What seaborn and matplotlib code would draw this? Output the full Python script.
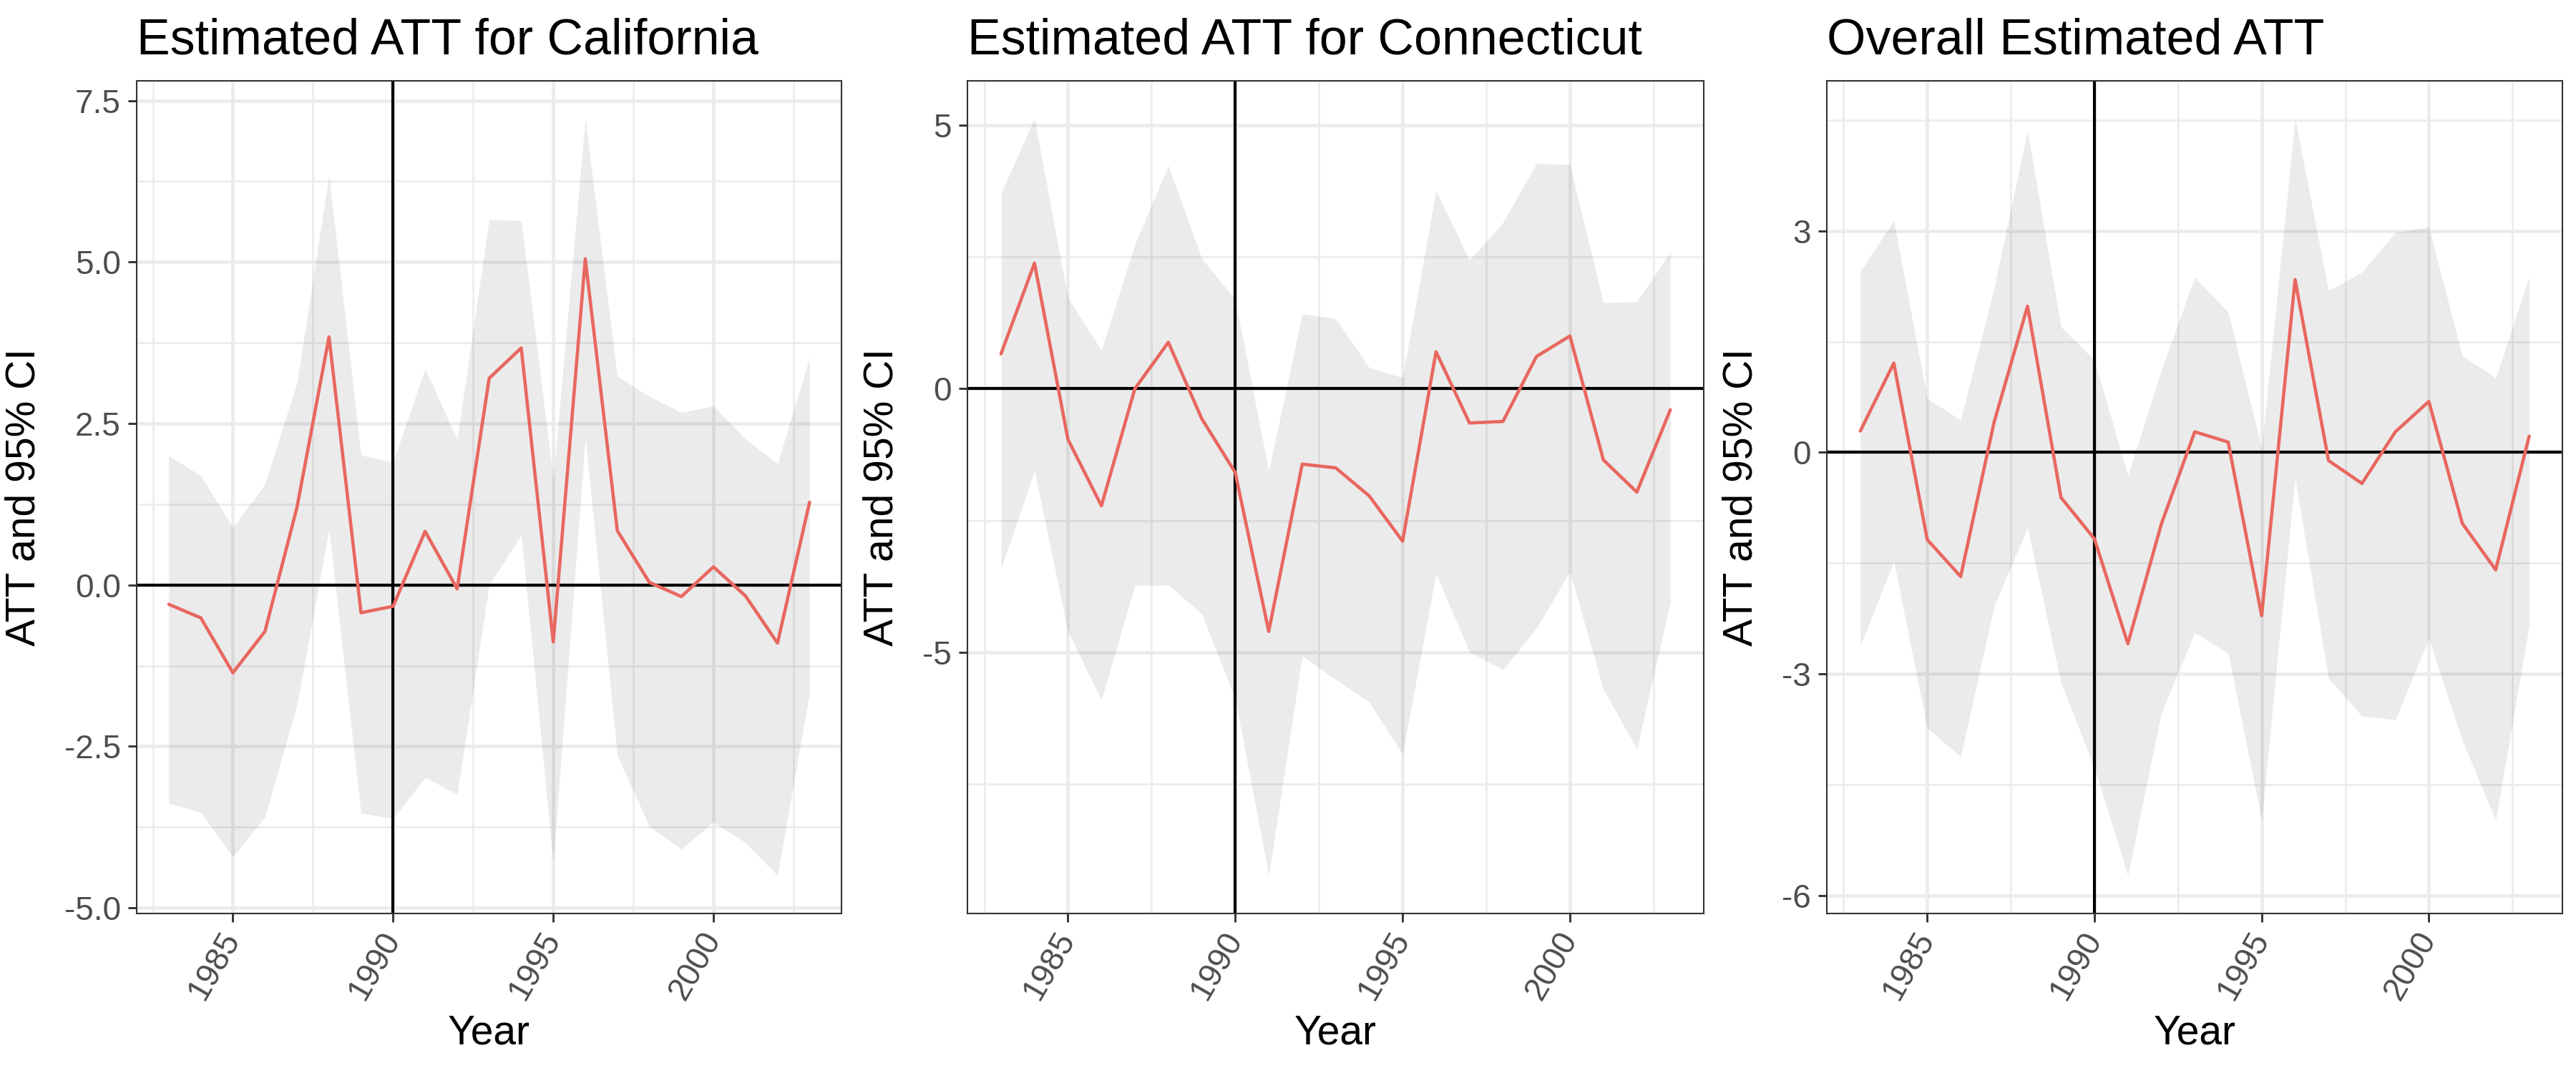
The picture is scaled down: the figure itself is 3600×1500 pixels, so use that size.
import numpy as np
import pandas as pd
import matplotlib
matplotlib.use('Agg')
import matplotlib.pyplot as plt
import seaborn as sns

# Event-time ATT estimates with 95% CI
years = [1983, 1984, 1985, 1986, 1987, 1988, 1989, 1990, 1991, 1992, 1993,
         1994, 1995, 1996, 1997, 1998, 1999, 2000, 2001, 2002, 2003]

ca_att = [-0.30, -0.51, -1.36, -0.72, 1.20, 3.84, -0.43, -0.33, 0.83, -0.06, 3.20,
          3.67, -0.88, 5.05, 0.84, 0.04, -0.18, 0.28, -0.17, -0.90, 1.28]
ca_hi = [2.00, 1.69, 0.89, 1.56, 3.13, 6.34, 2.01, 1.90, 3.35, 2.25, 5.66,
         5.64, 1.65, 7.22, 3.23, 2.92, 2.67, 2.77, 2.26, 1.88, 3.52]
ca_lo = [-3.38, -3.52, -4.21, -3.59, -1.86, 0.85, -3.53, -3.62, -2.98, -3.24, 0.00,
         0.77, -4.30, 2.28, -2.64, -3.74, -4.09, -3.67, -3.99, -4.50, -1.67]

ct_att = [0.66, 2.38, -0.96, -2.22, 0.00, 0.88, -0.57, -1.59, -4.60, -1.43, -1.50,
          -2.03, -2.89, 0.70, -0.65, -0.62, 0.61, 1.00, -1.35, -1.96, -0.40]
ct_hi = [3.71, 5.12, 1.72, 0.73, 2.74, 4.23, 2.47, 1.69, -1.56, 1.42, 1.33,
         0.40, 0.21, 3.75, 2.44, 3.15, 4.27, 4.25, 1.63, 1.65, 2.59]
ct_lo = [-3.41, -1.56, -4.60, -5.90, -3.73, -3.72, -4.27, -5.88, -9.23, -5.07, -5.51,
         -5.94, -6.93, -3.51, -4.99, -5.33, -4.54, -3.47, -5.70, -6.83, -4.06]

all_att = [0.29, 1.21, -1.18, -1.68, 0.41, 1.98, -0.61, -1.17, -2.59, -0.97, 0.28,
           0.14, -2.21, 2.34, -0.11, -0.42, 0.28, 0.69, -0.96, -1.59, 0.22]
all_hi = [2.45, 3.14, 0.73, 0.44, 2.23, 4.36, 1.70, 1.25, -0.31, 1.11, 2.37,
          1.90, 0.05, 4.52, 2.19, 2.44, 2.98, 3.05, 1.31, 1.01, 2.38]
all_lo = [-2.62, -1.47, -3.73, -4.12, -2.08, -1.02, -3.12, -4.27, -5.73, -3.53, -2.44,
          -2.72, -4.98, -0.35, -3.06, -3.57, -3.62, -2.52, -3.90, -4.98, -2.34]

titles = ['Estimated ATT for California', 'Estimated ATT for Connecticut',
          'Overall Estimated ATT']
ytick_sets = [[-5.0, -2.5, 0.0, 2.5, 5.0, 7.5], [-5, 0, 5], [-6, -3, 0, 3]]
ytick_labels = [['-5.0', '-2.5', '0.0', '2.5', '5.0', '7.5'], ['-5', '0', '5'],
                ['-6', '-3', '0', '3']]
xticks = [1985, 1990, 1995, 2000]
treat_year = 1990

panels = [
    pd.DataFrame({'year': years, 'att': ca_att, 'lo': ca_lo, 'hi': ca_hi}),
    pd.DataFrame({'year': years, 'att': ct_att, 'lo': ct_lo, 'hi': ct_hi}),
    pd.DataFrame({'year': years, 'att': all_att, 'lo': all_lo, 'hi': all_hi}),
]

sns.set_theme(style='white')
plt.rcParams['font.family'] = ['Liberation Sans', 'DejaVu Sans']

fig = plt.figure(figsize=(12, 5), dpi=300)
positions = [
    [0.0531, 0.1487, 0.2736, 0.776],
    [0.3756, 0.1487, 0.2858, 0.776],
    [0.7092, 0.1487, 0.2856, 0.776],
]

grid_col = '#EBEBEB'
for i, df in enumerate(panels):
    ax = fig.add_axes(positions[i])

    # ggplot-like limits: 5% expansion
    ymin, ymax = df['lo'].min(), df['hi'].max()
    pad = 0.05 * (ymax - ymin)
    ax.set_ylim(ymin - pad, ymax + pad)
    ax.set_xlim(1982, 2004)

    # grid (major + minor)
    yt = ytick_sets[i]
    step = yt[1] - yt[0]
    minor_y = [v + step / 2 for v in [yt[0] - step] + yt]
    minor_x = [1982.5, 1987.5, 1992.5, 1997.5, 2002.5]
    for v in minor_y:
        ax.axhline(v, color=grid_col, lw=0.6, zorder=0)
    for v in minor_x:
        ax.axvline(v, color=grid_col, lw=0.6, zorder=0)
    for v in yt:
        ax.axhline(v, color=grid_col, lw=1.1, zorder=0)
    for v in xticks:
        ax.axvline(v, color=grid_col, lw=1.1, zorder=0)

    ax.fill_between(df['year'], df['lo'], df['hi'], color='black', alpha=0.08,
                    lw=0, zorder=1)
    ax.axhline(0, color='black', lw=1.0, zorder=2)
    ax.axvline(treat_year, color='black', lw=1.0, zorder=2)
    sns.lineplot(data=df, x='year', y='att', ax=ax, color='#E8675F', lw=1.1,
                 zorder=3)

    ax.set_yticks(yt)
    ax.set_yticklabels(ytick_labels[i])
    ax.set_xticks(xticks)
    ax.set_xticklabels([str(x) for x in xticks], rotation=60, ha='right',
                       va='center', rotation_mode='anchor')
    ax.tick_params(axis='both', which='major', length=2.9, width=0.7,
                   color='#333333', labelsize=11, labelcolor='#4D4D4D',
                   left=True, bottom=True, pad=2.5)
    ax.tick_params(axis='x', pad=4)
    for s in ax.spines.values():
        s.set_color('#333333')
        s.set_linewidth(0.5)

    ax.set_xlabel('Year', fontsize=13.7, color='black', labelpad=3)
    ax.set_ylabel('ATT and 95% CI', fontsize=13.7, color='black', labelpad=7)
    ax.set_title(titles[i], loc='left', fontsize=16.8, color='black', pad=9)

fig.savefig('out.png', dpi=300)
